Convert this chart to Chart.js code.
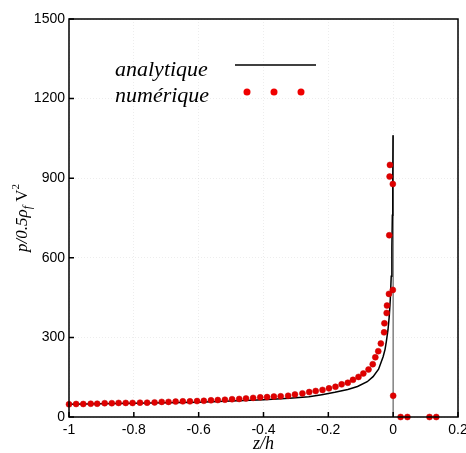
<!DOCTYPE html>
<html>
<head>
<meta charset="utf-8">
<script src="https://cdn.jsdelivr.net/npm/chart.js@4"></script>
<style>
html, body { margin: 0; padding: 0; overflow: hidden; background: #fff; }
</style>
</head>
<body>
<canvas id="chart" width="480" height="453"></canvas>
<script>
// courbe analytique (z/h, p/0.5 rho_f V^2)
const analytiqueZ = [-1, -0.9, -0.8, -0.7, -0.6, -0.5, -0.4, -0.32, -0.26, -0.22, -0.18, -0.14, -0.11, -0.08,
    -0.062, -0.045, -0.031, -0.025, -0.021, -0.016, -0.012, -0.009, -0.006, -0.004, -0.0025, -0.0012, -0.0003];
const analytiqueP = [48, 50, 52, 54, 56, 60, 65, 71, 76, 84, 93, 104, 115, 133,
    152, 180, 227, 255, 285, 328, 380, 440, 530, 640, 760, 900, 1062];

// points numériques
const numeriqueZ = [-1.0, -0.978, -0.956, -0.933, -0.913, -0.89, -0.868, -0.847, -0.825, -0.804, -0.781, -0.759,
    -0.736, -0.714, -0.693, -0.671, -0.649, -0.627, -0.605, -0.584, -0.562, -0.541, -0.519, -0.497, -0.475, -0.454,
    -0.432, -0.41, -0.389, -0.368, -0.347, -0.324, -0.303, -0.28, -0.259, -0.239, -0.218, -0.198, -0.178, -0.159,
    -0.14, -0.124, -0.107, -0.092, -0.076, -0.063, -0.055, -0.046, -0.038, -0.028, -0.027, -0.02, -0.019, -0.013,
    -0.001, -0.012, -0.001, -0.011, -0.01, 0.0, 0.023, 0.044, 0.112, 0.133];
const numeriqueP = [48, 49, 49, 50, 50, 52, 52, 53, 53, 53, 54, 54,
    55, 57, 57, 58, 59, 59, 60, 61, 63, 64, 65, 67, 68, 70,
    72, 74, 75, 77, 78, 80, 85, 89, 94, 98, 102, 108, 114, 123,
    129, 140, 151, 164, 179, 199, 225, 248, 277, 319, 353, 392, 420, 464,
    479, 685, 878, 906, 950, 80, 0, 0, 0, 0];

// paroi z = 0
const paroiZ = [0, 0];
const paroiP = [0, 1062];

const xTickValues = [-1, -0.8, -0.6, -0.4, -0.2, 0, 0.2];
const yTickValues = [0, 300, 600, 900, 1200, 1500];

const legendLabels = ['analytique', 'numérique'];

const toPoints = (xs, ys) => xs.map((x, i) => ({ x: x, y: ys[i] }));

const serif = '"Liberation Serif", "DejaVu Serif", serif';
const sans = '"Liberation Sans", Arial, sans-serif';

// ticks vers l'intérieur, cadre, titres et légende
const decorPlugin = {
    id: 'decor',
    afterDraw(chart) {
        const { ctx, chartArea: a, scales } = chart;
        ctx.save();
        ctx.strokeStyle = '#000';
        ctx.lineWidth = 1.5;
        ctx.strokeRect(a.left, a.top, a.right - a.left, a.bottom - a.top);

        ctx.beginPath();
        xTickValues.forEach(v => {
            const x = scales.x.getPixelForValue(v);
            ctx.moveTo(x, a.bottom);
            ctx.lineTo(x, a.bottom - 5);
        });
        yTickValues.forEach(v => {
            const y = scales.y.getPixelForValue(v);
            ctx.moveTo(a.left, y);
            ctx.lineTo(a.left + 5, y);
        });
        ctx.stroke();

        // titre axe x
        ctx.fillStyle = '#000';
        ctx.font = 'italic 18px ' + serif;
        ctx.textAlign = 'center';
        ctx.textBaseline = 'alphabetic';
        ctx.fillText('z/h', (a.left + a.right) / 2, 449);

        // titre axe y : p/0.5ρ_f V²
        ctx.save();
        ctx.translate(27, (a.top + a.bottom) / 2);
        ctx.rotate(-Math.PI / 2);
        const parts = [
            { t: 'p/0.5ρ', f: 'italic 17px ', dy: 0 },
            { t: 'f', f: 'italic 12px ', dy: 4 },
            { t: ' V', f: '17px ', dy: 0 },
            { t: '2', f: '11px ', dy: -8 }
        ];
        let total = 0;
        parts.forEach(p => { ctx.font = p.f + serif; p.w = ctx.measureText(p.t).width; total += p.w; });
        let cx = -total / 2;
        ctx.textAlign = 'left';
        parts.forEach(p => {
            ctx.font = p.f + serif;
            ctx.fillText(p.t, cx, p.dy);
            cx += p.w;
        });
        ctx.restore();

        // légende
        const lx = a.left + 46;
        ctx.font = 'italic 22px ' + serif;
        ctx.textAlign = 'left';
        ctx.fillText(legendLabels[0], lx, a.top + 57);
        ctx.fillText(legendLabels[1], lx, a.top + 83);
        ctx.strokeStyle = '#000';
        ctx.lineWidth = 1.5;
        ctx.beginPath();
        ctx.moveTo(a.left + 166, a.top + 46);
        ctx.lineTo(a.left + 247, a.top + 46);
        ctx.stroke();
        ctx.fillStyle = '#f00000';
        [178, 205, 232].forEach(dx => {
            ctx.beginPath();
            ctx.arc(a.left + dx, a.top + 73, 3.5, 0, Math.PI * 2);
            ctx.fill();
        });
        ctx.restore();
    }
};

new Chart(document.getElementById('chart'), {
    type: 'scatter',
    data: {
        datasets: [
            {
                label: legendLabels[1],
                data: toPoints(numeriqueZ, numeriqueP),
                showLine: false,
                pointRadius: 3,
                pointBackgroundColor: '#e00000',
                pointBorderColor: '#c80000',
                pointBorderWidth: 0.5,
                clip: false,
                order: 0
            },
            {
                label: legendLabels[0],
                data: toPoints(analytiqueZ, analytiqueP),
                showLine: true,
                borderColor: '#000',
                borderWidth: 1.5,
                pointRadius: 0,
                tension: 0,
                order: 1
            },
            {
                label: 'paroi',
                data: toPoints(paroiZ, paroiP),
                showLine: true,
                borderColor: '#808080',
                borderWidth: 1.5,
                pointRadius: 0,
                order: 2
            }
        ]
    },
    options: {
        responsive: false,
        animation: false,
        events: [],
        layout: { padding: { left: 0, right: 22, top: 19, bottom: 0 } },
        plugins: {
            legend: { display: false },
            tooltip: { enabled: false }
        },
        scales: {
            x: {
                type: 'linear',
                min: -1,
                max: 0.2,
                afterBuildTicks: s => { s.ticks = xTickValues.map(v => ({ value: v })); },
                afterFit: s => { s.height = 36; },
                ticks: {
                    color: '#000',
                    font: { family: sans, size: 14 },
                    padding: 5,
                    maxRotation: 0,
                    callback: v => String(Number(v.toFixed(1)))
                },
                grid: { color: 'rgba(0,0,0,0.07)', drawTicks: false },
                border: { display: false, dash: [1, 2] }
            },
            y: {
                type: 'linear',
                min: 0,
                max: 1500,
                afterBuildTicks: s => { s.ticks = yTickValues.map(v => ({ value: v })); },
                afterFit: s => { s.width = 69; },
                ticks: {
                    color: '#000',
                    font: { family: sans, size: 14 },
                    padding: 4,
                    callback: v => String(v)
                },
                grid: { color: 'rgba(0,0,0,0.07)', drawTicks: false },
                border: { display: false, dash: [1, 2] }
            }
        }
    },
    plugins: [decorPlugin]
});
</script>
</body>
</html>
